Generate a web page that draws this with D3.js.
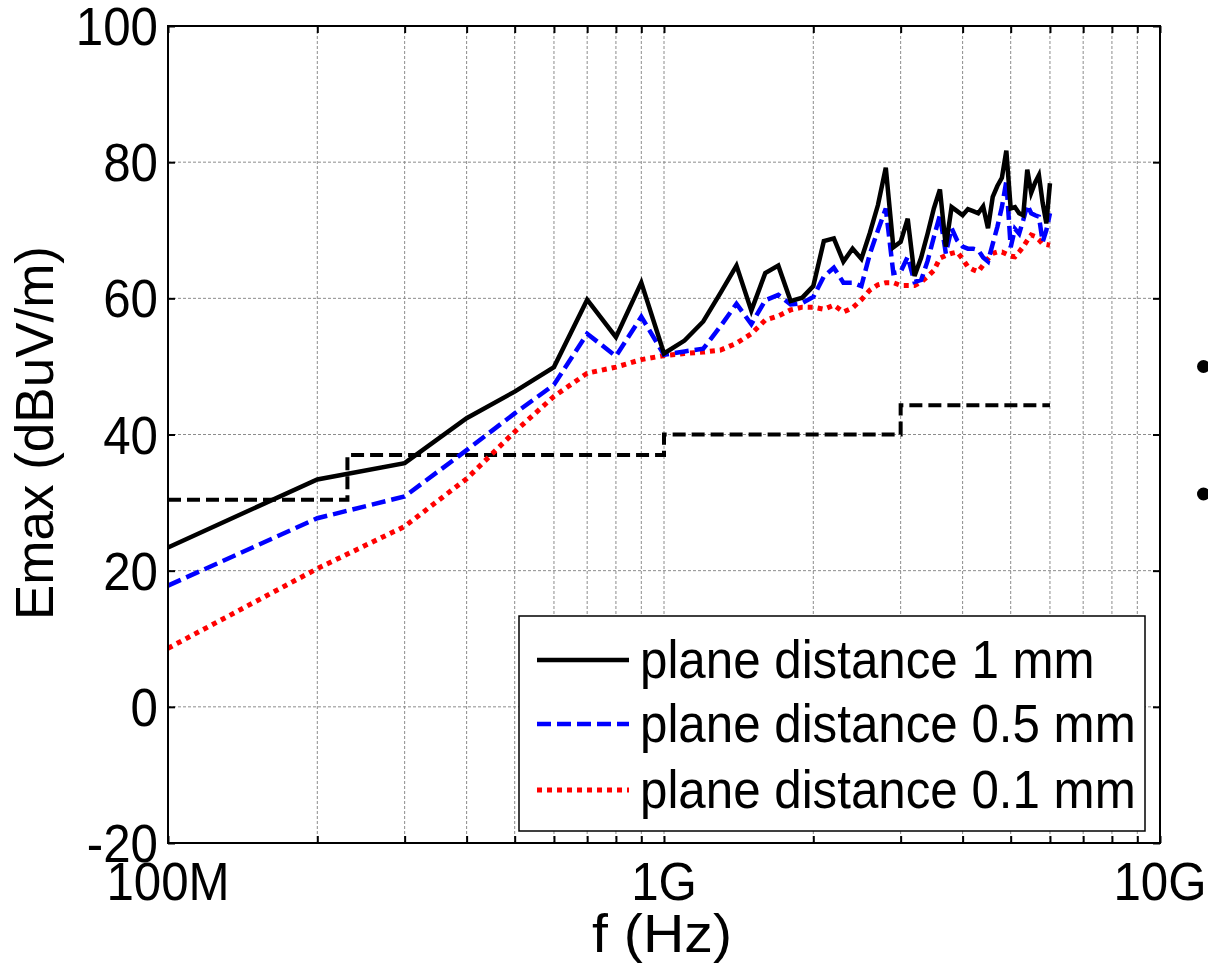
<!DOCTYPE html>
<html>
<head>
<meta charset="utf-8">
<script src="https://cdn.jsdelivr.net/npm/d3@7"></script>
<style>
  body { margin: 0; background: #fff; }
  svg { display: block; }
  text { font-family: "Liberation Sans", Arial, sans-serif; fill: #000; }
</style>
</head>
<body>
<div id="chart"></div>
<script>
// frequency grid in GHz, 0.1 .. 6.0
const freqGHz = [0.1,0.2,0.3,0.4,0.5,0.6,0.7,0.8,0.9,1.0,
  1.1,1.2,1.3,1.4,1.5,1.6,1.7,1.8,1.9,2.0,
  2.1,2.2,2.3,2.4,2.5,2.6,2.7,2.8,2.9,3.0,
  3.1,3.2,3.3,3.4,3.5,3.6,3.7,3.8,3.9,4.0,
  4.1,4.2,4.3,4.4,4.5,4.6,4.7,4.8,4.9,5.0,
  5.1,5.2,5.3,5.4,5.5,5.6,5.7,5.8,5.9,6.0];

const emax1mm = [23.4,33.4,35.8,42.4,46.3,49.9,59.8,54.3,62.3,51.9,
  53.8,56.6,60.8,64.8,58.2,63.7,64.8,59.6,60.1,61.8,
  68.4,68.8,65.4,67.3,65.8,69.6,73.7,79.2,67.5,68.3,
  71.7,63.3,66.0,69.5,73.2,76.0,67.6,73.4,72.8,72.2,
  73.1,72.8,72.5,73.5,70.3,74.9,76.5,77.7,81.7,73.2,
  73.4,72.5,72.2,78.9,75.5,77.0,78.1,74.0,71.0,76.9];

const emax05mm = [17.8,27.7,30.9,37.7,43.1,47.3,54.8,51.5,57.3,51.7,
  52.2,52.6,55.9,59.2,56.2,59.7,60.5,59.1,59.3,60.2,
  63.2,64.5,62.3,62.3,61.8,66.5,70.0,73.2,63.7,63.9,
  66.1,62.4,62.7,65.5,69.0,72.2,66.6,70.3,68.5,67.6,
  67.3,67.3,67.1,66.0,65.4,68.0,70.5,73.4,77.2,67.5,
  70.2,69.5,71.5,73.7,72.5,72.2,72.0,68.3,70.0,72.5];

const emax01mm = [8.6,20.3,26.5,33.5,40.4,45.6,49.0,49.9,51.0,51.6,
  51.9,52.1,52.4,53.4,54.8,56.8,57.4,58.3,58.7,58.7,
  58.4,59.0,58.0,58.6,59.8,61.2,62.0,62.3,62.3,61.9,
  61.9,61.9,62.4,63.2,64.1,65.9,66.3,66.6,66.8,65.8,
  64.6,64.2,63.9,64.9,65.8,66.6,66.8,66.8,66.5,66.2,
  66.1,66.8,67.6,68.5,69.3,69.1,68.6,68.0,67.9,67.8];

// limit line (step)
const limitFreqGHz = [0.1, 0.23, 0.23, 1.0, 1.0, 3.0, 3.0, 6.0];
const limitLevel   = [30.4, 30.4, 37.0, 37.0, 40.0, 40.0, 44.3, 44.3];

const legendLabels = ['plane distance 1 mm', 'plane distance 0.5 mm', 'plane distance 0.1 mm'];
const xTickLabels = ['100M', '1G', '10G'];
const yTicks = [-20, 0, 20, 40, 60, 80, 100];

const width = 1208, height = 969;
const margin = {left: 168, right: 1160, top: 26, bottom: 843};
const sx = 0.93; // glyphs in the reference are a little narrow

const svg = d3.select('#chart').append('svg')
  .attr('width', width)
  .attr('height', height);

const x = d3.scaleLog().domain([1e8, 1e10]).range([margin.left, margin.right]);
const y = d3.scaleLinear().domain([-20, 100]).range([margin.bottom, margin.top]);

const majorX = [1e8, 1e9, 1e10];
const minorX = [];
[1e8, 1e9].forEach(d => { for (let k = 2; k <= 9; k++) minorX.push(d * k); });

// grid
const grid = svg.append('g');
grid.selectAll('.gx').data(majorX.concat(minorX).filter(d => d > 1e8 && d < 1e10))
  .enter().append('line')
  .attr('x1', d => x(d)).attr('x2', d => x(d))
  .attr('y1', margin.top).attr('y2', margin.bottom)
  .attr('stroke', '#8c8c8c').attr('stroke-width', 1)
  .attr('stroke-dasharray', '3,2');
grid.selectAll('.gy').data(yTicks.filter(d => d > -20 && d < 100))
  .enter().append('line')
  .attr('x1', margin.left).attr('x2', margin.right)
  .attr('y1', d => y(d)).attr('y2', d => y(d))
  .attr('stroke', '#8c8c8c').attr('stroke-width', 1)
  .attr('stroke-dasharray', '3,2');

// inward ticks on all sides
const allX = majorX.concat(minorX);
svg.append('g').attr('transform', 'translate(0,' + margin.bottom + ')')
  .call(d3.axisBottom(x).tickValues(allX).tickSize(-7).tickFormat(''))
  .call(g => g.select('.domain').remove());
svg.append('g').attr('transform', 'translate(0,' + margin.top + ')')
  .call(d3.axisTop(x).tickValues(allX).tickSize(-7).tickFormat(''))
  .call(g => g.select('.domain').remove());
svg.append('g').attr('transform', 'translate(' + margin.left + ',0)')
  .call(d3.axisLeft(y).tickValues(yTicks).tickSize(-7).tickFormat(''))
  .call(g => g.select('.domain').remove());
svg.append('g').attr('transform', 'translate(' + margin.right + ',0)')
  .call(d3.axisRight(y).tickValues(yTicks).tickSize(-7).tickFormat(''))
  .call(g => g.select('.domain').remove());
svg.selectAll('.tick line').attr('stroke', '#000').attr('stroke-width', 2);

// series
const line = d3.line().x(d => x(d[0] * 1e9)).y(d => y(d[1]));

svg.append('path')
  .datum(limitFreqGHz.map((f, i) => [f, limitLevel[i]]))
  .attr('d', line).attr('fill', 'none')
  .attr('stroke', '#000').attr('stroke-width', 4)
  .attr('stroke-dasharray', '13,6');

const series = [
  {vals: emax01mm, color: '#ff0000', dash: '5,5', w: 5},
  {vals: emax05mm, color: '#0000ff', dash: '14,6', w: 4.5},
  {vals: emax1mm, color: '#000000', dash: null, w: 4.5}
];
series.forEach(s => {
  svg.append('path')
    .datum(freqGHz.map((f, i) => [f, s.vals[i]]))
    .attr('d', line).attr('fill', 'none')
    .attr('stroke', s.color).attr('stroke-width', s.w)
    .attr('stroke-linejoin', 'miter')
    .attr('stroke-dasharray', s.dash);
});

// axes box
svg.append('rect')
  .attr('x', margin.left).attr('y', margin.top)
  .attr('width', margin.right - margin.left).attr('height', margin.bottom - margin.top)
  .attr('fill', 'none').attr('stroke', '#000').attr('stroke-width', 2);

// tick labels
svg.selectAll('.ylab').data(yTicks).enter().append('text')
  .attr('transform', d => 'translate(158,' + (y(d) + 19) + ') scale(' + sx + ',1)')
  .attr('text-anchor', 'end')
  .attr('font-size', 53)
  .text(d => d);

svg.selectAll('.xlab').data(majorX).enter().append('text')
  .attr('transform', d => 'translate(' + x(d) + ',900) scale(' + sx + ',1)')
  .attr('text-anchor', 'middle')
  .attr('font-size', 53)
  .text((d, i) => xTickLabels[i]);

// axis titles
svg.append('text')
  .attr('transform', 'translate(662,952) scale(1.08,1)')
  .attr('text-anchor', 'middle')
  .attr('font-size', 53)
  .text('f (Hz)');

svg.append('text')
  .attr('transform', 'translate(53,433) rotate(-90)')
  .attr('text-anchor', 'middle')
  .attr('font-size', 53)
  .text('Emax (dBuV/m)');

// legend
const lg = svg.append('g');
lg.append('rect')
  .attr('x', 519).attr('y', 616)
  .attr('width', 626).attr('height', 215)
  .attr('fill', '#fff').attr('stroke', '#000').attr('stroke-width', 1.5);

const legendStyles = [series[2], series[1], series[0]];
const rowY = [660, 724, 790];
legendLabels.forEach((lab, i) => {
  const s = legendStyles[i];
  lg.append('line')
    .attr('x1', 537).attr('x2', 629)
    .attr('y1', rowY[i]).attr('y2', rowY[i])
    .attr('stroke', s.color).attr('stroke-width', s.w)
    .attr('stroke-dasharray', s.dash);
  lg.append('text')
    .attr('transform', 'translate(640,' + (rowY[i] + 18) + ') scale(' + sx + ',1)')
    .attr('font-size', 53)
    .text(lab);
});

// bullets cut off at the right edge
svg.selectAll('.bullet').data([366.5, 494]).enter().append('circle')
  .attr('cx', 1203.5).attr('cy', d => d).attr('r', 6.5)
  .attr('fill', '#000');
</script>
</body>
</html>
